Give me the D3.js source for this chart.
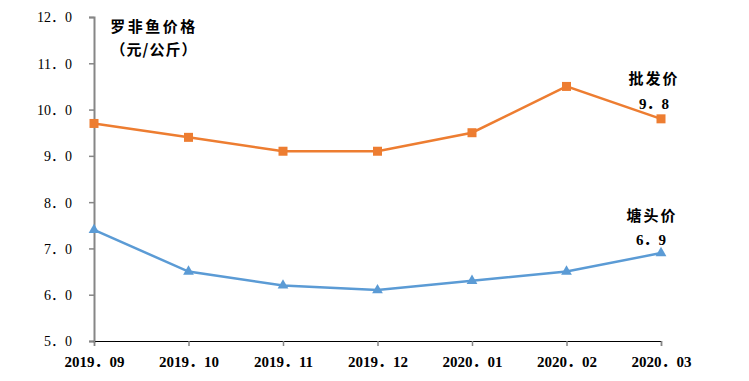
<!DOCTYPE html>
<html>
<head>
<meta charset="utf-8">
<script src="https://cdn.jsdelivr.net/npm/d3@7"></script>
<style>
  html, body { margin: 0; padding: 0; background: #fff; }
  svg { display: block; }
</style>
</head>
<body>
<svg id="chart" width="749" height="381"></svg>
<script>
const categories = ["2019.09", "2019.10", "2019.11", "2019.12", "2020.01", "2020.02", "2020.03"];
const wholesalePrice = [9.7, 9.4, 9.1, 9.1, 9.5, 10.5, 9.8];
const pondPrice = [7.4, 6.5, 6.2, 6.1, 6.3, 6.5, 6.9];
const yTicks = [5, 6, 7, 8, 9, 10, 11, 12];
const titleLines = ["罗非鱼价格", "（元/公斤）"];
const wholesaleLabel = "批发价";
const pondLabel = "塘头价";

const svg = d3.select("#chart");
const numFont = "'Liberation Serif', 'Noto Sans CJK SC', serif";
const cjkFont = "'Noto Sans CJK SC', sans-serif";
const fw = s => s.replace(".", "．");

const x = d3.scalePoint().domain(categories).range([94, 661]);
const y = d3.scaleLinear().domain([5, 12]).range([341, 17]);

// Y axis
const yAxis = svg.append("g")
  .attr("transform", "translate(94,0)")
  .call(d3.axisLeft(y).tickValues(yTicks).tickSize(5).tickPadding(17)
    .tickFormat(d => fw(d.toFixed(1))));
yAxis.select(".domain").attr("stroke", "#868686").attr("stroke-width", 2);
yAxis.selectAll(".tick line").attr("stroke", "#868686").attr("stroke-width", 1.5);
yAxis.selectAll(".tick text").attr("font-family", numFont).attr("font-size", 14)
  .attr("fill", "#000").attr("dy", "0.35em");

// X axis
const xAxis = svg.append("g")
  .attr("transform", "translate(0,341)")
  .call(d3.axisBottom(x).tickSize(5).tickPadding(10).tickFormat(d => fw(d)));
xAxis.select(".domain").attr("stroke", "#000").attr("stroke-width", 1.2);
xAxis.selectAll(".tick line").attr("stroke", "#868686").attr("stroke-width", 1.5);
xAxis.selectAll(".tick text").attr("font-family", numFont).attr("font-size", 15)
  .attr("font-weight", "bold").attr("fill", "#000").attr("y", 21).attr("dy", "0.35em");

// Lines
const line = d3.line().x((d, i) => x(categories[i])).y(d => y(d));
svg.append("path").datum(wholesalePrice).attr("d", line)
  .attr("fill", "none").attr("stroke", "#ED7D31").attr("stroke-width", 2.5);
svg.append("path").datum(pondPrice).attr("d", line)
  .attr("fill", "none").attr("stroke", "#5B9BD5").attr("stroke-width", 2.5);

// Markers
svg.append("g").selectAll("rect").data(wholesalePrice).join("rect")
  .attr("x", (d, i) => x(categories[i]) - 4.5)
  .attr("y", d => y(d) - 4.5)
  .attr("width", 9).attr("height", 9)
  .attr("fill", "#ED7D31");
const tri = d3.symbol().type(d3.symbolTriangle).size(50);
svg.append("g").selectAll("path").data(pondPrice).join("path")
  .attr("d", tri)
  .attr("transform", (d, i) => `translate(${x(categories[i])},${y(d)})`)
  .attr("fill", "#5B9BD5");

// Title
svg.append("text").attr("x", 154).attr("y", 27).attr("dy", "0.35em")
  .attr("text-anchor", "middle").attr("font-family", cjkFont).attr("font-size", 15)
  .attr("font-weight", "bold").attr("letter-spacing", 2.5).text(titleLines[0]);
svg.append("text").attr("x", 154).attr("y", 50).attr("dy", "0.35em")
  .attr("text-anchor", "middle").attr("font-family", cjkFont).attr("font-size", 15)
  .attr("font-weight", "bold").attr("letter-spacing", 1).text(titleLines[1]);

// Series end labels
const last = categories.length - 1;
const lx = x(categories[last]);
svg.append("text").attr("x", lx - 7).attr("y", 79).attr("dy", "0.35em")
  .attr("text-anchor", "middle").attr("font-family", cjkFont).attr("font-size", 15)
  .attr("font-weight", "bold").attr("letter-spacing", 2).text(wholesaleLabel);
svg.append("text").attr("x", lx - 7).attr("y", y(wholesalePrice[last]) - 15).attr("dy", "0.35em")
  .attr("text-anchor", "middle").attr("font-family", numFont).attr("font-size", 15)
  .attr("font-weight", "bold").text(fw(wholesalePrice[last].toFixed(1)));
svg.append("text").attr("x", lx - 9).attr("y", 215.5).attr("dy", "0.35em")
  .attr("text-anchor", "middle").attr("font-family", cjkFont).attr("font-size", 15)
  .attr("font-weight", "bold").attr("letter-spacing", 2).text(pondLabel);
svg.append("text").attr("x", lx - 10).attr("y", y(pondPrice[last]) - 13).attr("dy", "0.35em")
  .attr("text-anchor", "middle").attr("font-family", numFont).attr("font-size", 15)
  .attr("font-weight", "bold").text(fw(pondPrice[last].toFixed(1)));
</script>
</body>
</html>
